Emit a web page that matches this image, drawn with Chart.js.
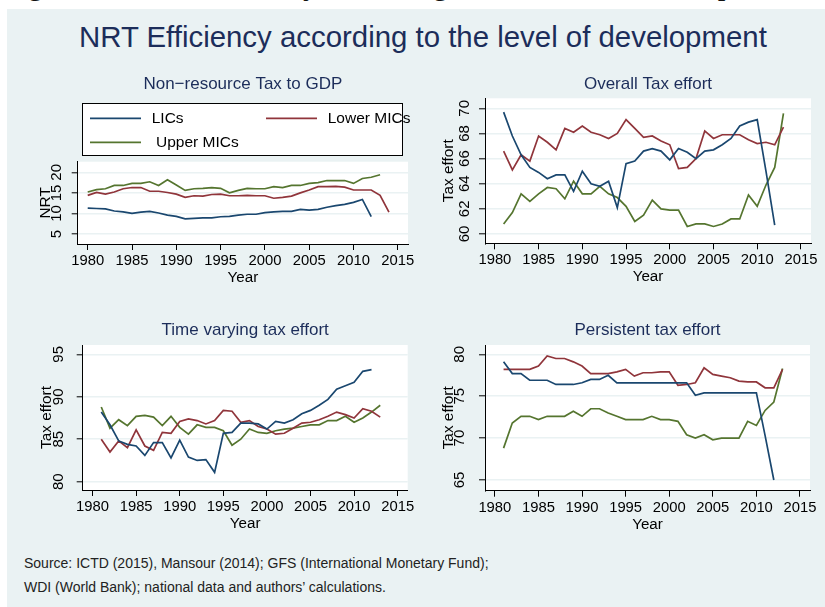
<!DOCTYPE html>
<html>
<head>
<meta charset="utf-8">
<script src="https://cdn.jsdelivr.net/npm/chart.js@4.4.1/dist/chart.umd.min.js"></script>
<style>
body { margin: 0; background: #fff; }
#page { position: relative; width: 825px; height: 607px; overflow: hidden; background: #fff; }
#frame { position: absolute; left: 7px; top: 9px; right: 0; bottom: 0; background: #eaf2f3; }
#cut { position: absolute; left: 0; top: 0; width: 825px; height: 9px; overflow: hidden; }
#cut span { position: absolute; left: 2px; top: -32px; font: 31px/31px "Liberation Serif", serif; white-space: nowrap; color: #111; }
#title { position: absolute; left: 79px; top: 22px; font: 29.4px/29px "Liberation Sans", Arial, sans-serif; color: #1c2d5a; white-space: nowrap; }
canvas { position: absolute; }
.note { position: absolute; left: 24px; font: 14px/14px "Liberation Sans", Arial, sans-serif; color: #222; white-space: nowrap; }
</style>
</head>
<body>
<div id="page">
  <div id="cut"><span>Figure 4: NRT Efficiency according to the level of development</span></div>
  <div id="frame"></div>
  <div id="title">NRT Efficiency according to the level of development</div>
  <canvas id="p1" width="410" height="236" style="left:10px;top:62px"></canvas>
  <canvas id="p2" width="405" height="236" style="left:420px;top:62px"></canvas>
  <canvas id="p3" width="410" height="236" style="left:10px;top:312px"></canvas>
  <canvas id="p4" width="405" height="236" style="left:420px;top:312px"></canvas>
  <div class="note" style="top:556px">Source: ICTD (2015), Mansour (2014); GFS (International Monetary Fund);</div>
  <div class="note" style="top:580px">WDI (World Bank); national data and authors’ calculations.</div>
</div>
<script>
// series order: LICs, Lower MICs, Upper MICs
const seriesNames = ['LICs', 'Lower MICs', 'Upper MICs'];
const legendLabels = ['LICs', 'Lower MICs', ' Upper MICs'];
const seriesColors = ['#1a476f', '#90353b', '#55752f'];

const nrtYears = [1980, 1981, 1982, 1983, 1984, 1985, 1986, 1987, 1988, 1989,
                  1990, 1991, 1992, 1993, 1994, 1995, 1996, 1997, 1998, 1999,
                  2000, 2001, 2002, 2003, 2004, 2005, 2006, 2007, 2008, 2009,
                  2010, 2011, 2012, 2013, 2014];
const effortYears = [1981, 1982, 1983, 1984, 1985, 1986, 1987, 1988, 1989, 1990,
                     1991, 1992, 1993, 1994, 1995, 1996, 1997, 1998, 1999, 2000,
                     2001, 2002, 2003, 2004, 2005, 2006, 2007, 2008, 2009, 2010,
                     2011, 2012, 2013];

// Non-resource tax to GDP
const nrtLIC = [11.3, 11.2, 11.1, 10.6, 10.4, 10.0, 10.3, 10.5, 10.1, 9.6,
                9.3, 8.7, 8.8, 8.9, 8.9, 9.2, 9.3, 9.6, 9.8, 9.8,
                10.2, 10.4, 10.5, 10.5, 11.0, 10.8, 11.0, 11.5, 11.9, 12.2,
                12.7, 13.4, 9.2, null, null];
const nrtLower = [14.4, 15.1, 14.7, 15.2, 16.0, 16.3, 16.3, 15.4, 15.4, 15.1,
                  14.7, 13.9, 14.3, 14.2, 14.6, 14.7, 14.3, 14.3, 14.4, 14.3,
                  14.3, 13.7, 13.9, 14.2, 15.0, 15.7, 16.5, 16.5, 16.6, 16.4,
                  15.7, 15.7, 15.7, 14.4, 10.3];
const nrtUpper = [15.2, 15.8, 16.0, 16.8, 16.8, 17.3, 17.3, 17.7, 16.8, 18.2,
                  16.9, 15.6, 16.0, 16.1, 16.3, 16.1, 15.0, 15.6, 16.1, 16.0,
                  16.0, 16.5, 16.3, 16.8, 16.8, 17.3, 17.5, 18.0, 18.0, 18.0,
                  17.3, 18.5, 18.8, 19.4, null];

// Overall tax effort
const ovLIC = [69.7, 67.8, 66.3, 65.3, 64.9, 64.4, 64.7, 64.7, 63.4, 65.0,
               64.0, 63.8, 64.2, 62.1, 65.6, 65.8, 66.6, 66.8, 66.6, 65.9,
               66.8, 66.5, 66.0, 66.6, 66.7, 67.1, 67.6, 68.6, 68.9, 69.1,
               65.0, 60.7, null];
const ovLower = [66.6, 65.1, 66.3, 65.8, 67.8, 67.3, 66.7, 68.4, 68.1, 68.6,
                 68.1, 67.9, 67.6, 68.0, 69.1, 68.4, 67.7, 67.8, 67.4, 67.1,
                 65.2, 65.3, 66.0, 68.2, 67.6, 67.9, 67.9, 67.9, 67.5, 67.2,
                 67.3, 67.1, 68.5];
const ovUpper = [60.8, 61.7, 63.2, 62.6, 63.2, 63.7, 63.6, 62.8, 64.2, 63.2,
                 63.2, 63.8, 63.2, 62.9, 62.2, 61.0, 61.5, 62.7, 62.0, 61.9,
                 61.9, 60.6, 60.8, 60.8, 60.6, 60.8, 61.2, 61.2, 63.1, 62.2,
                 63.9, 65.3, 69.6];

// Time varying tax effort
const tvLIC = [88.2, 86.7, 84.8, 84.4, 84.2, 83.1, 84.6, 84.6, 82.8, 84.9,
               82.9, 82.5, 82.6, 81.1, 85.7, 85.8, 86.9, 86.9, 86.8, 86.2,
               87.1, 86.9, 87.3, 88.0, 88.4, 89.0, 89.7, 90.9, 91.3, 91.7,
               93.0, 93.2, null];
const tvLower = [85.0, 83.5, 84.8, 84.0, 86.1, 84.2, 83.7, 85.8, 85.7, 87.1,
                 87.4, 87.2, 86.8, 87.2, 88.4, 88.3, 87.0, 87.2, 86.5, 86.2,
                 85.6, 85.7, 86.3, 86.9, 87.0, 87.3, 87.7, 88.2, 87.9, 87.5,
                 88.6, 88.3, 87.6];
const tvUpper = [88.8, 86.3, 87.3, 86.6, 87.7, 87.8, 87.6, 86.6, 87.7, 86.4,
                 85.6, 86.7, 86.4, 86.4, 86.0, 84.3, 85.0, 86.2, 85.8, 85.7,
                 86.0, 86.2, 86.3, 86.5, 86.7, 86.7, 87.2, 87.2, 87.7, 87.0,
                 87.5, 88.2, 89.0];

// Persistent tax effort
const pLIC = [79.1, 77.7, 77.7, 76.9, 76.9, 76.9, 76.4, 76.4, 76.4, 76.6,
              77.0, 77.0, 77.5, 76.6, 76.6, 76.6, 76.6, 76.6, 76.6, 76.6,
              76.6, 76.6, 75.1, 75.4, 75.4, 75.4, 75.4, 75.4, 75.4, 75.4,
              70.3, 65.0, null];
const pLower = [78.2, 78.2, 78.2, 78.2, 78.6, 79.8, 79.5, 79.5, 79.1, 78.6,
                77.7, 77.7, 77.7, 77.9, 78.2, 77.4, 77.8, 77.8, 77.9, 77.9,
                76.3, 76.4, 76.6, 78.4, 77.6, 77.4, 77.2, 76.8, 76.7, 76.7,
                76.0, 76.0, 78.2];
const pUpper = [68.8, 71.8, 72.6, 72.6, 72.2, 72.6, 72.6, 72.6, 73.2, 72.6,
                73.5, 73.5, 73.0, 72.6, 72.2, 72.2, 72.2, 72.6, 72.2, 72.2,
                72.0, 70.4, 70.0, 70.4, 69.8, 70.0, 70.0, 70.0, 72.0, 71.5,
                73.3, 74.3, 78.3];

const yearTicks = [1980, 1985, 1990, 1995, 2000, 2005, 2010, 2015];
const nrtTicks = [5, 10, 15, 20];
const overallTicks = [60, 62, 64, 66, 68, 70];
const tvTicks = [80, 85, 90, 95];
const persTicks = [65, 70, 75, 80];

Chart.defaults.font.family = '"Liberation Sans", Arial, sans-serif';

// white plot region
const plotBg = {
  id: 'plotBg',
  beforeDraw(chart) {
    const a = chart.chartArea, ctx = chart.ctx;
    ctx.save();
    ctx.fillStyle = '#fff';
    ctx.fillRect(a.left, a.top, a.right - a.left, a.bottom - a.top);
    ctx.restore();
  }
};

// two column legend in a box, above the plot
const boxLegend = {
  id: 'boxLegend',
  afterDraw(chart) {
    const a = chart.chartArea, ctx = chart.ctx;
    const left = a.left + 4.6, right = a.right - 5.3, top = a.top - 58.4, bottom = a.top - 6;
    ctx.save();
    ctx.fillStyle = '#fff';
    ctx.fillRect(left, top, right - left, bottom - top);
    ctx.strokeStyle = '#000';
    ctx.lineWidth = 1;
    ctx.strokeRect(Math.round(left) + 0.5, Math.round(top) + 0.5, Math.round(right - left), Math.round(bottom - top));
    ctx.font = '15.5px "Liberation Sans", Arial, sans-serif';
    ctx.textBaseline = 'middle';
    chart.data.datasets.forEach((ds, i) => {
      const col = i % 2, row = Math.floor(i / 2);
      const x = left + 7.7 + col * 176, y = top + 15 + row * 24;
      ctx.strokeStyle = ds.borderColor;
      ctx.lineWidth = ds.borderWidth;
      ctx.beginPath();
      ctx.moveTo(x, y);
      ctx.lineTo(x + 51, y);
      ctx.stroke();
      ctx.fillStyle = '#000';
      ctx.fillText(legendLabels[i], x + 61.7, y + 0.5);
    });
    ctx.restore();
  }
};

function panel(id, p) {
  return new Chart(document.getElementById(id), {
    type: 'line',
    data: {
      datasets: p.series.map((vals, i) => ({
        label: seriesNames[i],
        data: p.years.map((yr, j) => ({x: yr, y: vals[j]})),
        borderColor: seriesColors[i],
        borderWidth: 1.7,
        pointRadius: 0,
        fill: false,
        tension: 0
      }))
    },
    options: {
      responsive: false,
      animation: false,
      devicePixelRatio: 1,
      layout: {padding: p.pad},
      plugins: {
        legend: {display: false},
        tooltip: {enabled: false},
        title: {
          display: true,
          text: p.title,
          fullSize: false,
          color: '#1c2d5a',
          font: {size: 17, weight: 'normal'},
          padding: p.titlePad
        }
      },
      scales: {
        x: {
          type: 'linear',
          min: 1978.87,
          max: 2016.15,
          afterBuildTicks: s => { s.ticks = yearTicks.map(v => ({value: v})); },
          afterFit: s => { s.height = 43; s.paddingLeft = 0; s.paddingRight = 0; },
          grid: {drawOnChartArea: false, tickLength: 6, tickColor: '#000', tickWidth: 1},
          border: {color: '#000', width: 1},
          ticks: {autoSkip: false, maxRotation: 0, padding: 2, color: '#000',
                  font: {size: 14.8}, callback: v => String(v)},
          title: {display: true, text: 'Year', color: '#000', font: {size: 15.2}, padding: 0}
        },
        y: {
          type: 'linear',
          min: p.yMin,
          max: p.yMax,
          afterBuildTicks: s => { s.ticks = p.yTicks.map(v => ({value: v})); },
          afterFit: s => { s.width = p.yWidth; s.paddingTop = 0; s.paddingBottom = 0; },
          grid: {color: '#eaf2f3', lineWidth: 1.6, tickLength: 6, tickColor: '#000', tickWidth: 1},
          border: {color: '#000', width: 1},
          ticks: {autoSkip: false, minRotation: 90, maxRotation: 90, crossAlign: 'center',
                  padding: p.yLabelPad, color: '#000', font: {size: 15}, callback: v => String(v)},
          title: {display: true, text: p.yTitle, color: '#000', font: {size: 15.4}, padding: 0}
        }
      }
    },
    plugins: p.legend ? [plotBg, boxLegend] : [plotBg]
  });
}

panel('p1', {
  title: 'Non−resource Tax to GDP', yTitle: 'NRT',
  years: nrtYears, series: [nrtLIC, nrtLower, nrtUpper],
  yTicks: nrtTicks, yMin: 2.57, yMax: 22.58,
  pad: {left: 26.3, right: 12, top: 0, bottom: 11},
  titlePad: {top: 12, bottom: 67.3},
  yWidth: 41.4, yLabelPad: 6.1, legend: true
});
panel('p2', {
  title: 'Overall Tax effort', yTitle: 'Tax effort',
  years: effortYears, series: [ovLIC, ovLower, ovUpper],
  yTicks: overallTicks, yMin: 59.26, yMax: 70.8,
  pad: {left: 19.3, right: 14, top: 0, bottom: 11.7},
  titlePad: {top: 11.8, bottom: 4.1},
  yWidth: 45.7, yLabelPad: 5.9
});
panel('p3', {
  title: 'Time varying tax effort', yTitle: 'Tax effort',
  years: effortYears, series: [tvLIC, tvLower, tvUpper],
  yTicks: tvTicks, yMin: 79.02, yMax: 96.1,
  pad: {left: 27.7, right: 12.3, top: 0, bottom: 15},
  titlePad: {top: 8.1, bottom: 4.5},
  yWidth: 45, yLabelPad: 9.4
});
panel('p4', {
  title: 'Persistent tax effort', yTitle: 'Tax effort',
  years: effortYears, series: [pLIC, pLower, pUpper],
  yTicks: persTicks, yMin: 63.72, yMax: 81.11,
  pad: {left: 19.3, right: 15, top: 0, bottom: 14.3},
  titlePad: {top: 8.5, bottom: 4.1},
  yWidth: 45.7, yLabelPad: 10.7
});
</script>
</body>
</html>
